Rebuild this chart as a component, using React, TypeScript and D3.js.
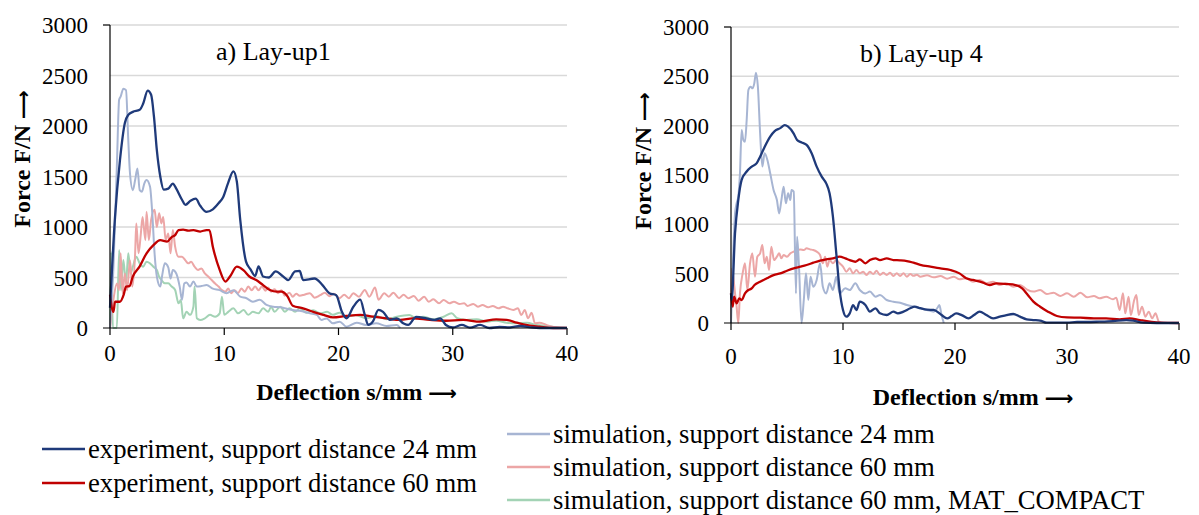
import * as d3 from "d3";

// Deflection s/mm, Force F/N
const lay1Exp24: [number, number][] = [
  [0, 200], [0.44, 1100], [0.87, 1660], [1.3, 2030], [1.6, 2110], [2.0, 2140], [2.6, 2160], [2.9, 2220],
  [3.3, 2350], [3.6, 2310], [3.85, 2090], [4.1, 1760], [4.4, 1500], [4.7, 1370], [5.1, 1380], [5.5, 1430],
  [5.8, 1380], [6.3, 1270], [6.6, 1220], [7.05, 1260], [7.5, 1280], [7.9, 1210], [8.45, 1150], [9.0, 1175],
  [9.5, 1235], [9.9, 1295], [10.35, 1440], [10.8, 1550], [11.1, 1450], [11.4, 1070], [11.9, 660], [12.3, 580],
  [12.7, 515], [13.0, 610], [13.4, 510], [13.9, 500], [14.5, 560], [15.1, 515], [15.6, 475], [16.2, 560],
  [16.6, 565], [16.9, 475], [17.9, 490], [18.6, 425], [19.2, 345], [19.8, 325], [20.3, 160], [20.7, 95],
  [21.3, 210], [21.9, 280], [22.3, 130], [22.6, 30], [23.0, 63], [23.5, 180], [23.9, 160], [24.5, 80],
  [25.1, 95], [25.7, 45], [26.1, 30], [26.8, 110], [27.7, 95], [28.4, 80], [28.9, 95], [29.4, 30],
  [30.0, 5], [30.8, 30], [31.5, 3], [32.4, 30], [33.2, 0], [34.1, 10], [35.0, 5], [35.9, 20], [37.0, 5],
  [38.2, 0], [40, 0],
];

const lay1Exp60: [number, number][] = [
  [0, 330], [0.3, 160], [0.44, 260], [0.87, 260], [1.2, 330], [1.4, 410], [1.7, 415], [2.0, 510], [2.6, 610],
  [3.2, 740], [3.8, 820], [4.4, 870], [5.0, 855], [5.4, 900], [5.7, 920], [6.0, 970], [6.4, 975], [6.85, 965],
  [7.3, 970], [7.9, 955], [8.45, 970], [8.7, 970], [9.0, 805], [9.6, 575], [10.1, 460], [10.5, 510],
  [11.1, 607], [11.7, 570], [12.2, 510], [12.8, 475], [13.4, 425], [14.0, 376], [14.6, 360], [15.0, 360],
  [15.5, 320], [16.0, 220], [16.9, 195], [17.8, 160], [18.7, 130], [19.5, 105], [20.7, 120], [21.9, 130],
  [23.0, 112], [24.2, 95], [25.4, 80], [26.5, 95], [28.0, 80], [29.4, 72], [30.9, 80], [32.4, 63],
  [33.8, 86], [34.7, 80], [35.6, 53], [36.4, 30], [37.6, 13], [38.8, 0], [40, 0],
];

const lay1Sim24: [number, number][] = [
  [0, 0], [0.3, 600], [0.6, 1600], [0.8, 2260], [0.93, 2290], [1.17, 2370], [1.4, 2355], [1.6, 1860],
  [1.75, 1530], [2.0, 1365], [2.2, 1465], [2.4, 1580], [2.6, 1365], [2.8, 1350], [3.0, 1430], [3.2, 1465],
  [3.5, 1400], [3.7, 1135], [3.9, 740], [4.1, 510], [4.4, 410], [4.55, 510], [4.8, 640], [5.1, 600],
  [5.3, 490], [5.5, 575], [5.8, 540], [6.1, 410], [6.3, 280], [6.5, 440], [6.7, 450], [7.0, 410], [7.3, 460],
  [7.6, 410], [8.0, 415], [8.45, 425], [9.0, 390], [9.6, 375], [10.2, 345], [10.8, 375], [11.4, 310],
  [11.95, 295], [12.5, 260], [13.1, 280], [13.7, 228], [14.3, 210], [14.9, 205], [15.5, 190], [16.0, 178],
  [16.6, 170], [17.5, 145], [18.1, 130], [18.5, 80], [18.95, 95], [19.5, 46], [20.1, 63], [20.7, 13],
  [21.6, 53], [22.4, 30], [23.3, 46], [24.2, 20], [25.1, 30], [25.4, 0],
];

const lay1Sim60: [number, number][] = [
  [0, 0], [0.3, 280], [0.6, 440], [0.8, 375], [0.93, 740], [1.1, 345], [1.3, 540], [1.5, 375], [1.75, 670],
  [1.95, 410], [2.2, 740], [2.3, 1035], [2.5, 740], [2.7, 935], [2.85, 1100], [3.1, 870], [3.2, 1150],
  [3.4, 870], [3.6, 1070], [3.9, 1170], [4.1, 1000], [4.3, 1135], [4.5, 1035], [4.66, 1100], [4.87, 870],
  [5.1, 935], [5.3, 740], [5.5, 970], [5.7, 805], [6.0, 705], [6.3, 705], [6.6, 670], [6.85, 640],
  [7.1, 655], [7.4, 607], [7.7, 575], [8.0, 590], [8.3, 540], [8.6, 510], [8.9, 475], [9.2, 440], [9.5, 410],
  [9.8, 375], [10.1, 360], [10.35, 390], [10.6, 345], [10.9, 375], [11.2, 345], [11.5, 390], [11.8, 360],
  [12.1, 410], [12.4, 375], [12.7, 410], [13.0, 375], [13.3, 410], [13.6, 370], [13.85, 400], [14.1, 360],
  [14.4, 383], [14.7, 345], [15.0, 375], [15.3, 320], [15.7, 350], [16.0, 310], [16.3, 340], [16.6, 320],
  [17.0, 330], [17.5, 345], [17.9, 300], [18.4, 325], [18.8, 350], [19.2, 315], [19.6, 340], [20.1, 295],
  [20.5, 330], [20.9, 295], [21.3, 345], [21.8, 310], [22.3, 376], [22.7, 310], [23.2, 400], [23.5, 280],
  [24.0, 345], [24.4, 310], [24.8, 350], [25.3, 295], [25.7, 330], [26.1, 295], [26.6, 318], [27.0, 270],
  [27.5, 310], [27.9, 260], [28.3, 285], [28.8, 245], [29.2, 278], [29.7, 245], [30.1, 260], [30.6, 238],
  [31.0, 245], [31.3, 218], [31.8, 238], [32.2, 211], [32.6, 228], [33.1, 205], [33.5, 218], [34.0, 195],
  [34.4, 211], [34.8, 195], [35.3, 178], [35.7, 195], [36.0, 128], [36.3, 178], [36.6, 96], [36.9, 152],
  [37.2, 46], [37.6, 53], [38.2, 30], [39.0, 7], [40, 0],
];

const lay1Compact: [number, number][] = [
  [0, 0], [0.1, 750], [0.25, 0], [0.6, 0], [0.8, 772], [0.96, 376], [1.17, 673], [1.4, 442], [1.6, 740],
  [1.8, 540], [2.0, 607], [2.3, 706], [2.6, 640], [2.9, 607], [3.2, 657], [3.5, 640], [3.8, 607], [4.1, 574],
  [4.3, 508], [4.5, 475], [4.8, 442], [5.1, 442], [5.4, 410], [5.7, 376], [6.0, 244], [6.2, 277], [6.4, 96],
  [6.7, 160], [7.0, 130], [7.3, 211], [7.4, 410], [7.6, 96], [7.9, 80], [8.3, 96], [8.75, 130], [9.2, 112],
  [9.6, 145], [9.8, 310], [10.0, 130], [10.35, 160], [10.8, 195], [11.2, 145], [11.7, 178], [12.1, 130],
  [12.5, 160], [13.0, 145], [13.4, 195], [13.85, 160], [14.1, 211], [14.4, 160], [14.9, 211], [15.3, 160],
  [15.7, 195], [16.2, 160], [16.6, 195], [17.2, 150], [17.8, 175], [18.4, 145], [19.0, 160], [19.5, 130],
  [20.1, 152], [20.7, 112], [21.5, 128], [22.4, 96], [23.3, 118], [24.2, 86], [25.1, 112], [26.2, 128],
  [26.8, 96], [27.4, 112], [28.3, 86], [29.2, 112], [29.9, 145], [30.4, 96], [31.2, 80], [32.1, 86],
  [33.0, 63], [33.8, 73], [34.7, 53], [35.6, 46], [36.5, 53], [37.3, 30], [38.2, 20], [39.0, 7], [40, 0],
];

const lay4Exp24: [number, number][] = [
  [0, 300], [0.06, 233], [0.36, 910], [0.65, 1245], [0.95, 1450], [1.4, 1535], [1.85, 1585], [2.3, 1620],
  [2.6, 1685], [3.0, 1785], [3.5, 1890], [3.9, 1945], [4.4, 1975], [4.8, 2005], [5.1, 1990], [5.6, 1920],
  [5.9, 1855], [6.3, 1830], [6.75, 1805], [7.2, 1720], [7.65, 1585], [8.1, 1483], [8.5, 1415], [8.8, 1315],
  [9.1, 1078], [9.4, 706], [9.7, 334], [10.0, 132], [10.3, 64], [10.6, 98], [10.9, 182], [11.2, 132],
  [11.5, 216], [12.0, 182], [12.4, 115], [12.9, 149], [13.3, 98], [13.9, 81], [14.5, 115], [14.9, 98],
  [15.4, 115], [16.0, 149], [16.4, 165], [16.9, 150], [17.5, 135], [18.1, 132], [18.8, 81], [19.3, 47],
  [19.7, 70], [20.1, 98], [20.6, 80], [21.2, 47], [21.7, 80], [22.2, 115], [22.8, 81], [23.4, 47],
  [24.0, 64], [24.6, 81], [25.2, 91], [25.8, 64], [26.4, 37], [27.0, 30], [27.6, 24], [28.2, 3], [29.1, 3],
  [30.0, 3], [30.9, 10], [31.8, 10], [32.9, 14], [34.1, 20], [35.3, 30], [35.9, 24], [36.8, 3], [38.0, 0],
  [40, 0],
];

const lay4Exp60: [number, number][] = [
  [0, 300], [0.15, 165], [0.27, 267], [0.5, 200], [0.74, 250], [0.95, 233], [1.25, 300], [1.55, 334],
  [1.85, 351], [2.1, 385], [2.6, 419], [3.2, 453], [3.8, 486], [4.4, 503], [5.0, 530], [5.6, 554], [6.2, 571],
  [6.75, 588], [7.35, 611], [7.95, 632], [8.5, 645], [9.1, 655], [9.7, 672], [10.2, 655], [10.6, 638],
  [11.1, 621], [11.5, 645], [12.0, 605], [12.4, 638], [12.9, 655], [13.3, 638], [13.9, 655], [14.5, 638],
  [15.1, 635], [15.7, 628], [16.3, 611], [16.9, 590], [17.8, 571], [18.7, 554], [19.6, 537], [20.4, 503],
  [21.0, 453], [21.6, 436], [22.5, 409], [23.1, 385], [23.7, 402], [24.6, 395], [25.4, 385], [26.0, 351],
  [26.5, 284], [27.0, 216], [27.6, 165], [28.3, 115], [29.1, 71], [30.0, 57], [31.2, 54], [32.4, 47],
  [33.5, 47], [34.7, 37], [35.6, 47], [36.5, 30], [37.4, 14], [38.3, 3], [40, 0],
];

const lay4Sim24: [number, number][] = [
  [0, 0], [0.2, 706], [0.36, 1110], [0.5, 1213], [0.65, 1280], [0.8, 1517], [0.95, 1956], [1.1, 1855],
  [1.25, 1838], [1.4, 2057], [1.55, 2361], [1.75, 2395], [1.93, 2378], [2.08, 2429], [2.23, 2537],
  [2.4, 2395], [2.6, 1922], [2.8, 1585], [3.0, 1720], [3.25, 1652], [3.5, 1517], [3.8, 1348], [4.1, 1246],
  [4.3, 1111], [4.5, 1246], [4.7, 1382], [4.9, 1213], [5.1, 1314], [5.3, 1246], [5.4, 1348], [5.6, 1331],
  [5.8, 300], [5.9, 875], [6.07, 571], [6.3, 0], [6.5, 233], [6.7, 503], [6.9, 233], [7.1, 469], [7.35, 368],
  [7.65, 436], [7.95, 605], [8.2, 368], [8.5, 300], [8.8, 402], [9.1, 334], [9.4, 469], [9.7, 300],
  [10.2, 351], [10.6, 334], [11.1, 402], [11.5, 334], [12.0, 300], [12.4, 318], [12.9, 267], [13.3, 284],
  [13.9, 233], [14.5, 216], [15.1, 205], [15.7, 182], [16.3, 165], [16.9, 149], [17.5, 132], [18.1, 115],
  [18.5, 165], [18.6, 182], [18.8, 81], [19.0, 0],
];

const lay4Sim60: [number, number][] = [
  [0, 0], [0.05, 550], [0.2, 470], [0.36, 300], [0.5, 165], [0.65, 0], [0.8, 300], [1.04, 503], [1.25, 605],
  [1.46, 334], [1.7, 605], [1.9, 706], [2.14, 470], [2.35, 672], [2.6, 706], [2.8, 790], [3.0, 605],
  [3.2, 672], [3.4, 537], [3.6, 773], [3.84, 638], [4.1, 672], [4.3, 706], [4.5, 655], [4.7, 689], [5.0, 672],
  [5.3, 706], [5.6, 723], [5.9, 740], [6.2, 746], [6.5, 740], [6.75, 757], [7.05, 746], [7.35, 740],
  [7.65, 723], [7.95, 689], [8.2, 605], [8.4, 672], [8.6, 571], [8.8, 638], [9.1, 605], [9.4, 638], [9.7, 605],
  [10.0, 571], [10.3, 520], [10.6, 554], [10.9, 503], [11.2, 537], [11.5, 503], [11.8, 520], [12.1, 486],
  [12.4, 520], [12.7, 497], [13.0, 530], [13.3, 486], [13.6, 510], [13.9, 486], [14.2, 510], [14.5, 476],
  [14.8, 503], [15.1, 476], [15.4, 503], [15.7, 470], [16.0, 497], [16.3, 478], [16.6, 490], [16.9, 470],
  [17.5, 483], [18.1, 463], [18.7, 476], [19.3, 449], [19.9, 470], [20.4, 443], [21.0, 453], [21.6, 419],
  [22.2, 436], [22.8, 402], [23.4, 419], [24.0, 385], [24.6, 402], [25.2, 368], [25.8, 385], [26.4, 341],
  [27.0, 318], [27.6, 334], [28.2, 294], [28.8, 307], [29.4, 274], [30.0, 301], [30.6, 267], [31.2, 307],
  [31.8, 260], [32.4, 274], [32.9, 250], [33.5, 267], [34.1, 240], [34.4, 257], [34.7, 132], [35.0, 301],
  [35.2, 98], [35.5, 267], [35.7, 81], [36.0, 233], [36.2, 284], [36.4, 81], [36.7, 165], [37.0, 64],
  [37.3, 115], [37.6, 47], [37.9, 98], [38.2, 14], [38.6, 0], [40, 0],
];

const xTicks = [0, 10, 20, 30, 40];
const yTicks = [0, 500, 1000, 1500, 2000, 2500, 3000];

const seriesNames = [
  "experiment, support distance 24 mm",
  "experiment, support distance 60 mm",
  "simulation, support distance 24 mm",
  "simulation, support distance 60 mm",
  "simulation, support distance 60 mm, MAT_COMPACT",
];

const colors = {
  exp24: "#1f3a7a",
  exp60: "#c00000",
  sim24: "#a7b5d3",
  sim60: "#eca6a6",
  compact: "#a3d3b5",
};

const FONT = "'Liberation Serif', 'Times New Roman', serif";
const ARROW_FONT = "'DejaVu Sans', sans-serif";

type Line = { data: [number, number][]; color: string; width: number };

const Panel = ({ x0, x1, yTop, yBottom, title, titleDx, tickDy, labelDy, lines }: {
  x0: number; x1: number; yTop: number; yBottom: number; title: string; titleDx: number;
  tickDy: number; labelDy: number; lines: Line[];
}) => {
  const x = d3.scaleLinear().domain([0, 40]).range([x0, x1]);
  const y = d3.scaleLinear().domain([0, 3000]).range([yBottom, yTop]);
  const line = d3.line<[number, number]>().x((d) => x(d[0])).y((d) => y(d[1])).curve(d3.curveMonotoneX);
  const midX = (x0 + x1) / 2;

  return (
    <g>
      {yTicks.filter((t) => t > 0).map((t) => (
        <line key={t} x1={x0} x2={x1} y1={y(t)} y2={y(t)} stroke="#d9d9d9" strokeWidth={1.5} />
      ))}
      {yTicks.map((t) => (
        <text key={t} x={x0 - 22} y={y(t)} dy="0.35em" textAnchor="end" fontSize={23} fontFamily={FONT}>{t}</text>
      ))}
      {xTicks.map((t) => (
        <g key={t}>
          <line x1={x(t)} x2={x(t)} y1={yBottom} y2={yBottom + 7} stroke="#000" strokeWidth={1.2} />
          <text x={x(t)} y={yBottom + tickDy} textAnchor="middle" fontSize={23} fontFamily={FONT}>{t}</text>
        </g>
      ))}
      {lines.map((l, i) => (
        <path key={i} d={line(l.data) ?? ""} fill="none" stroke={l.color} strokeWidth={l.width} strokeLinejoin="round" />
      ))}
      <line x1={x0} x2={x0} y1={yTop} y2={yBottom} stroke="#000" strokeWidth={1.2} />
      <line x1={x0 - 7} x2={x0} y1={yTop} y2={yTop} stroke="#000" strokeWidth={1.2} />
      <line x1={x0 - 7} x2={x1} y1={yBottom} y2={yBottom} stroke="#000" strokeWidth={1.2} />
      <text x={x0 + titleDx} y={yTop + 35} fontSize={26} fontFamily={FONT}>{title}</text>
      <text x={midX + 18} y={yBottom + labelDy} textAnchor="middle" fontSize={24} fontWeight="bold" fontFamily={FONT}>
        Deflection s/mm <tspan fontFamily={ARROW_FONT} fontSize={20}>⟶</tspan>
      </text>
      <text transform={`translate(${x0 - 80},${yTop + 134}) rotate(-90)`} textAnchor="middle" fontSize={24}
        fontWeight="bold" fontFamily={FONT}>
        Force F/N <tspan fontFamily={ARROW_FONT} fontSize={20}>⟶</tspan>
      </text>
    </g>
  );
};

const legendItems = [
  { name: seriesNames[0], color: colors.exp24, lx: 42, ly: 449 },
  { name: seriesNames[1], color: colors.exp60, lx: 42, ly: 483 },
  { name: seriesNames[2], color: colors.sim24, lx: 507, ly: 434 },
  { name: seriesNames[3], color: colors.sim60, lx: 507, ly: 467 },
  { name: seriesNames[4], color: colors.compact, lx: 507, ly: 500 },
];

export default function App() {
  return (
    <div style={{ position: "absolute", left: 0, top: 0 }}>
      <svg width={1199} height={515} style={{ display: "block", background: "#fff" }}>
        <Panel x0={110} x1={567} yTop={25} yBottom={328} title="a) Lay-up1" titleDx={106} tickDy={33} labelDy={72}
          lines={[
            { data: lay1Compact, color: colors.compact, width: 2 },
            { data: lay1Sim60, color: colors.sim60, width: 2 },
            { data: lay1Sim24, color: colors.sim24, width: 2 },
            { data: lay1Exp60, color: colors.exp60, width: 2.3 },
            { data: lay1Exp24, color: colors.exp24, width: 2.3 },
          ]} />
        <Panel x0={731} x1={1179} yTop={27} yBottom={323} title="b) Lay-up 4" titleDx={129} tickDy={41} labelDy={82}
          lines={[
            { data: lay4Sim60, color: colors.sim60, width: 2 },
            { data: lay4Sim24, color: colors.sim24, width: 2 },
            { data: lay4Exp60, color: colors.exp60, width: 2.3 },
            { data: lay4Exp24, color: colors.exp24, width: 2.3 },
          ]} />
        {legendItems.map((it) => (
          <g key={it.name}>
            <line x1={it.lx} x2={it.lx + 43} y1={it.ly} y2={it.ly} stroke={it.color} strokeWidth={2.3} />
            <text x={it.lx + 46} y={it.ly + 9} fontSize={26.7} fontFamily={FONT}>{it.name}</text>
          </g>
        ))}
      </svg>
    </div>
  );
}
